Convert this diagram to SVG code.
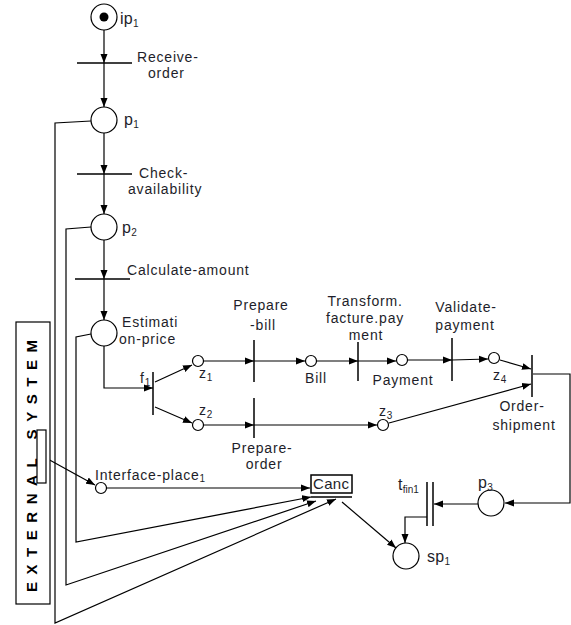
<svg xmlns="http://www.w3.org/2000/svg" width="571" height="625" viewBox="0 0 571 625">
<defs>
<marker id="ah" markerUnits="userSpaceOnUse" markerWidth="10" markerHeight="8" refX="9" refY="4" orient="auto">
<path d="M0,0.5 L9,4 L0,7.5 Z" fill="#000"/>
</marker>
<style>
.pl{fill:#fff;stroke:#000;stroke-width:1.2}
.tr{stroke:#000;stroke-width:1.5;fill:none}
.ar{stroke:#000;stroke-width:1.2;fill:none;marker-end:url(#ah)}
text{font-family:"Liberation Sans",Arial,sans-serif;font-size:14px;letter-spacing:0.8px;fill:#1e1e2a}
.c{text-anchor:middle}
.big{font-size:16px;letter-spacing:0.3px}
.s{font-size:10px;letter-spacing:0}
</style>
</defs>
<rect width="571" height="625" fill="#fff"/>

<g id="connectors">
<line class="ar" x1="104" y1="30" x2="104" y2="63"/>
<line class="ar" x1="104" y1="63" x2="104" y2="107"/>
<line class="ar" x1="104" y1="133" x2="104" y2="174"/>
<line class="ar" x1="104" y1="174" x2="104" y2="214"/>
<line class="ar" x1="104" y1="240" x2="104" y2="279"/>
<line class="ar" x1="104" y1="279" x2="104" y2="320"/>
<polyline class="ar" points="104,346 104,388 153,388"/>
<line class="ar" x1="155" y1="382" x2="192" y2="365"/>
<line class="ar" x1="155" y1="407" x2="192" y2="423"/>
<line class="ar" x1="204" y1="361" x2="254" y2="361"/>
<line class="ar" x1="254" y1="361" x2="305" y2="361"/>
<line class="ar" x1="317" y1="361" x2="358" y2="361"/>
<line class="ar" x1="358" y1="361" x2="396" y2="361"/>
<line class="ar" x1="408" y1="360" x2="452" y2="360"/>
<line class="ar" x1="452" y1="360" x2="488" y2="359"/>
<line class="ar" x1="500" y1="360" x2="531" y2="369"/>
<line class="ar" x1="204" y1="425" x2="254" y2="425"/>
<line class="ar" x1="254" y1="425" x2="377" y2="425"/>
<line class="ar" x1="389" y1="423" x2="531" y2="384"/>
<polyline class="ar" points="533,374 570,374 570,503 505,503"/>
<line class="ar" x1="478" y1="504" x2="434" y2="504"/>
<polyline class="ar" points="427,517 405,517 405,543"/>
<line class="ar" x1="342" y1="502" x2="396" y2="548"/>
<line class="ar" x1="107" y1="488" x2="310" y2="488"/>
<line class="ar" x1="46" y1="458" x2="95" y2="485"/>
<polyline class="ar" points="91,121 55,123 55,623 336,499"/>
<polyline class="ar" points="91,227 66,229 66,585 316,501"/>
<polyline class="ar" points="91,334 76,337 76,542 311,497"/>
</g>

<g id="external-system">
<rect x="16" y="322" width="34" height="282" fill="#fff" stroke="#000" stroke-width="1.2"/>
<text transform="translate(37,592) rotate(-90)" textLength="252" lengthAdjust="spacing" style="font-weight:bold;font-size:15px;letter-spacing:0;fill:#000">EXTERNAL SYSTEM</text>
<rect x="37" y="430" width="9" height="53" fill="#fff" stroke="#000" stroke-width="1.2"/>
</g>

<g id="ip1">
<circle class="pl" cx="104" cy="17" r="13"/>
<circle cx="104" cy="17" r="4.5" fill="#000"/>
<text class="big" x="120" y="24">ip<tspan class="s" dy="3">1</tspan></text>
</g>
<g id="receive-order">
<line class="tr" x1="77" y1="63" x2="132" y2="63"/>
<text x="137" y="62">Receive-</text>
<text x="148" y="78">order</text>
</g>
<g id="p1">
<circle class="pl" cx="104" cy="120" r="13"/>
<text class="big" x="124" y="125">p<tspan class="s" dy="3">1</tspan></text>
</g>
<g id="check-availability">
<line class="tr" x1="77" y1="174" x2="132" y2="174"/>
<text x="139" y="178">Check-</text>
<text x="128" y="194">availability</text>
</g>
<g id="p2">
<circle class="pl" cx="104" cy="227" r="13"/>
<text class="big" x="122" y="233">p<tspan class="s" dy="3">2</tspan></text>
</g>
<g id="calculate-amount">
<line class="tr" x1="75" y1="279" x2="130" y2="279"/>
<text x="127" y="275">Calculate-amount</text>
</g>
<g id="estimation-price">
<circle class="pl" cx="104" cy="333" r="13"/>
<text x="122" y="327">Estimati</text>
<text x="119" y="344">on-price</text>
</g>
<g id="f1">
<line class="tr" x1="153" y1="372" x2="153" y2="415"/>
<text x="140" y="383">f<tspan class="s" dy="3">1</tspan></text>
</g>
<g id="z1">
<circle class="pl" cx="198" cy="361" r="5.5"/>
<text x="199" y="378">z<tspan class="s" dy="3">1</tspan></text>
</g>
<g id="z2">
<circle class="pl" cx="198" cy="425" r="5.5"/>
<text x="199" y="415">z<tspan class="s" dy="3">2</tspan></text>
</g>
<g id="prepare-bill">
<line class="tr" x1="254" y1="340" x2="254" y2="382"/>
<text class="c" x="261" y="310">Prepare</text>
<text class="c" x="263" y="330">-bill</text>
</g>
<g id="bill">
<circle class="pl" cx="311" cy="361" r="5.5"/>
<text class="c" x="316" y="383">Bill</text>
</g>
<g id="transform-facture-payment">
<line class="tr" x1="358" y1="342" x2="358" y2="381"/>
<text class="c" x="365" y="306">Transform.</text>
<text class="c" x="365" y="323">facture.pay</text>
<text class="c" x="366" y="340">ment</text>
</g>
<g id="payment">
<circle class="pl" cx="402" cy="360" r="5.5"/>
<text class="c" x="403" y="385">Payment</text>
</g>
<g id="validate-payment">
<line class="tr" x1="452" y1="338" x2="452" y2="381"/>
<text class="c" x="466" y="312">Validate-</text>
<text class="c" x="465" y="330">payment</text>
</g>
<g id="z4">
<circle class="pl" cx="494" cy="358" r="5.5"/>
<text x="493" y="380">z<tspan class="s" dy="3">4</tspan></text>
</g>
<g id="order-shipment">
<line class="tr" x1="532" y1="355" x2="532" y2="397"/>
<text class="c" x="522" y="411">Order-</text>
<text class="c" x="524" y="430">shipment</text>
</g>
<g id="prepare-order">
<line class="tr" x1="254" y1="398" x2="254" y2="438"/>
<text class="c" x="262" y="453">Prepare-</text>
<text class="c" x="264" y="469">order</text>
</g>
<g id="z3">
<circle class="pl" cx="383" cy="425" r="5.5"/>
<text x="379" y="416">z<tspan class="s" dy="3">3</tspan></text>
</g>
<g id="interface-place1">
<circle class="pl" cx="101" cy="488" r="5.5"/>
<text x="95" y="480">Interface-place<tspan class="s" dy="2">1</tspan></text>
</g>
<g id="canc">
<rect x="311" y="475" width="41" height="18" fill="#fff" stroke="#000" stroke-width="1.5"/>
<line class="tr" x1="311" y1="497" x2="352" y2="497"/>
<text x="313" y="489" style="font-size:15px;letter-spacing:0.3px">Canc</text>
</g>
<g id="p3">
<circle class="pl" cx="491" cy="503" r="13"/>
<text class="big" x="478" y="488">p<tspan class="s" dy="3">3</tspan></text>
</g>
<g id="tfin1">
<line class="tr" x1="427" y1="482" x2="427" y2="526"/>
<line class="tr" x1="433" y1="482" x2="433" y2="526"/>
<text class="big" x="398" y="490">t<tspan class="s" dy="3">fin1</tspan></text>
</g>
<g id="sp1">
<circle class="pl" cx="406" cy="556" r="13"/>
<text class="big" x="427" y="562">sp<tspan class="s" dy="3">1</tspan></text>
</g>
</svg>
